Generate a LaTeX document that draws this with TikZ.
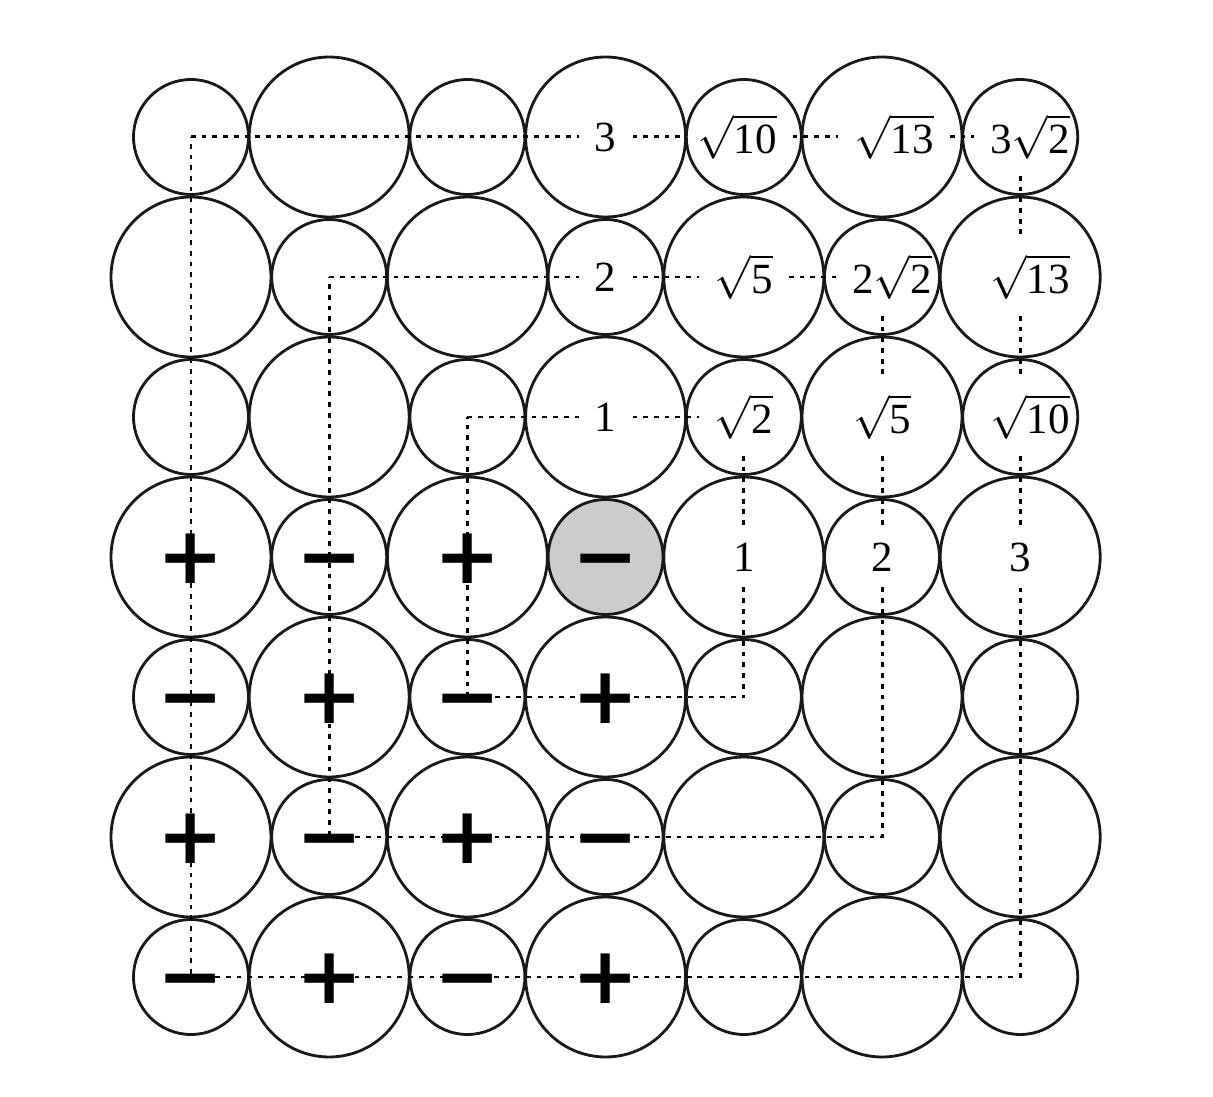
\documentclass[tikz,border=0pt]{standalone}
\usepackage{fontspec}
\setmainfont{Liberation Serif}
\newfontfamily\signfont{DejaVu Sans}
\begin{document}
\begin{tikzpicture}[x=0.02cm,y=-0.02cm,
  cell/.style={circle, draw=black!90, line width=1.6pt, inner sep=0pt},
  lab/.style={font=\fontsize{24.5}{29}\selectfont, inner sep=9pt},
  sgn/.style={font=\signfont\bfseries\fontsize{45}{50}\selectfont, inner sep=0pt, anchor=base, yshift=-15pt},
  ring/.style={line width=1.7pt, dash pattern=on 2.7pt off 3.4pt}]
\useasboundingbox[fill=white] (0,0) rectangle (1213,1097);
% circles
\foreach \r in {0,...,6}{
  \foreach \c in {0,...,6}{
    \pgfmathtruncatemacro\pp{mod(\r+\c,2)}
    \pgfmathtruncatemacro\ctr{and(\r==3,\c==3)}
    \pgfmathsetmacro\dia{\pp==0 ? 2.30 : 3.20}
    \pgfmathtruncatemacro\gr{\ctr==1 ? 20 : 0}
    \node[cell, minimum size=\dia cm, fill=black!\gr] (c-\c-\r) at ({191+138.2*\c},{137+140*\r}) {};
  }
}
% distance labels
\node[lab] (l-3-0) at (c-3-0) {3};
\node[lab, xshift=-0.14cm] (l-4-0) at (c-4-0) {$\sqrt{\mbox{10}}$};
\node[lab, xshift=0.24cm] (l-5-0) at (c-5-0) {$\sqrt{\mbox{13}}$};
\node[lab, xshift=0.2cm] (l-6-0) at (c-6-0) {3$\sqrt{\mbox{2}}$};
\node[lab] (l-3-1) at (c-3-1) {2};
\node[lab] (l-4-1) at (c-4-1) {$\sqrt{\mbox{5}}$};
\node[lab, xshift=0.2cm] (l-5-1) at (c-5-1) {2$\sqrt{\mbox{2}}$};
\node[lab, xshift=0.2cm] (l-6-1) at (c-6-1) {$\sqrt{\mbox{13}}$};
\node[lab] (l-3-2) at (c-3-2) {1};
\node[lab] (l-4-2) at (c-4-2) {$\sqrt{\mbox{2}}$};
\node[lab] (l-5-2) at (c-5-2) {$\sqrt{\mbox{5}}$};
\node[lab, xshift=0.2cm] (l-6-2) at (c-6-2) {$\sqrt{\mbox{10}}$};
\node[lab] (l-4-3) at (c-4-3) {1};
\node[lab] (l-5-3) at (c-5-3) {2};
\node[lab] (l-6-3) at (c-6-3) {3};
% dotted rings
\draw[ring] (c-2-2.center) -- (l-3-2.west) (l-3-2.east) -- (l-4-2.west)
  (l-4-2.south) -- (l-4-3.north) (l-4-3.south) -- (c-4-4.center) -- (c-2-4.center) -- (c-2-2.center);
\draw[ring] (c-1-1.center) -- (l-3-1.west) (l-3-1.east) -- (l-4-1.west) (l-4-1.east) -- (l-5-1.west)
  (c-5-1 |- l-5-1.south) -- (l-5-2.north) (l-5-2.south) -- (l-5-3.north)
  (l-5-3.south) -- (c-5-5.center) -- (c-1-5.center) -- (c-1-1.center);
\draw[ring] (c-0-0.center) -- (l-3-0.west) (l-3-0.east) -- (l-4-0.west) (l-4-0.east) -- (l-5-0.west)
  (l-5-0.east) -- (l-6-0.west)
  (c-6-0 |- l-6-0.south) -- (c-6-1 |- l-6-1.north) (c-6-1 |- l-6-1.south) -- (c-6-2 |- l-6-2.north)
  (c-6-2 |- l-6-2.south) -- (l-6-3.north) (l-6-3.south) -- (c-6-6.center) -- (c-0-6.center) -- (c-0-0.center);
% signs
\foreach \c/\r in {0/3,2/3,1/4,3/4,0/5,2/5,1/6,3/6}{
  \node[sgn] (s-\c-\r) at (c-\c-\r) {+};
}
\foreach \c/\r in {1/3,3/3,0/4,2/4,1/5,3/5,0/6,2/6}{
  \node[sgn] (s-\c-\r) at (c-\c-\r) {−};
}
\end{tikzpicture}
\end{document}
